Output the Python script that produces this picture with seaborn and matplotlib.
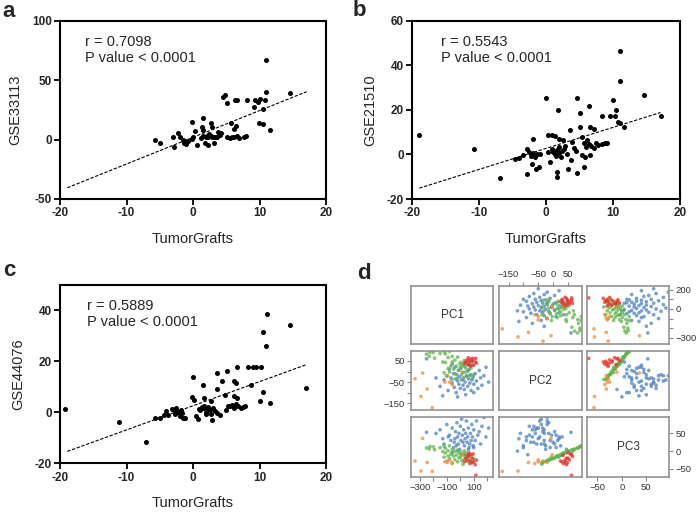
import numpy as np
import pandas as pd
import seaborn as sns
import matplotlib.pyplot as plt

# ---- panel a: TumorGrafts vs GSE33113 ----
tg_a = [-5.7, -5.0, -3.0, -2.8, -2.2, -2.0, -1.5, -1.3, -1.05, -1.2, -1.0, -0.8, -0.2, 0.05, -0.1,
        0.55, 0.3, 1.3, 1.45, 1.55, 1.55, 1.8, 1.9, 2.1, 2.3, 2.5, 2.7, 2.9, 3.1, 3.4, 3.6, 2.65,
        2.8, 3.15, 2.2, 3.8, 4.2, 4.45, 4.8, 5.05, 5.1, 5.5, 5.8, 6.2, 6.6, 6.9, 7.6, 5.7, 6.4,
        6.2, 6.3, 6.65, 8.1, 9.3, 9.8, 10.1, 10.8, 9.1, 10.6, 9.97, 10.5, 11.0, 11.0, 11.6, 14.6,
        7.9, 2.4, 1.2, 4.0]
gse33113 = [-0.3, -3.1, 2.4, -6.0, 5.8, 1.9, -0.3, -2.6, -4.0, -1.5, -2.0, -1.0, 0.3, 1.9, 15.0,
            -4.5, 7.5, 10.9, 8.1, 17.9, 3.0, -3.1, 2.5, 3.0, 2.0, 2.8, 3.2, 1.8, 2.5, 2.2, 2.0, 13.7,
            10.9, -3.1, -4.5, 6.6, 5.2, 36.1, 37.5, 30.5, 2.0, 1.2, 2.4, 1.8, 2.6, 1.5, 2.5, 14.0, 11.5,
            8.5, 33.3, 33.3, 33.0, 33.5, 32.0, 33.8, 33.0, 27.2, 25.5, 14.2, 13.1, 40.3, 66.9, 8.1, 38.9,
            2.8, 4.5, 1.5, 3.5]

# ---- panel b: TumorGrafts vs GSE21510 ----
tg_b = [-18.9, -10.7, -6.8, -4.6, -4.1, -3.5, -2.9, -2.6, -2.3, -2.0, -1.7, -1.4, -2.9, -1.9, -2.1,
        -1.5, -1.1, -0.9, 0.0, 0.35, 0.6, 0.85, 1.1, 1.3, 1.5, 1.7, 1.9, 2.2, 2.4, 2.7, 3.1, 0.85,
        1.4, 1.9, 1.8, 1.6, 1.7, 2.6, 2.9, 3.3, 3.6, 3.7, 4.6, 4.6, 5.1, 5.1, 5.3, 5.6, 5.9, 6.1,
        6.4, 6.7, 7.2, 7.5, 7.8, 8.3, 8.8, 9.1, 5.3, 5.6, 5.8, 6.6, 6.4, 6.6, 7.1, 8.3, 9.6, 10.0,
        10.3, 10.8, 11.0, 10.5, 11.0, 11.0, 11.6, 14.7, 17.1, 4.2, 3.9, 0.3, 2.0, 4.5]
gse21510 = [8.9, 2.3, -10.4, -2.2, -1.4, -0.4, 2.6, 1.0, -0.5, 0.8, -1.1, 0.2, -8.6, 6.7, -4.1,
            -6.4, -5.6, 0.4, 25.5, 8.9, -3.4, 2.6, 1.2, 0.0, -0.8, 2.0, 0.5, -1.1, 1.5, 2.6, 0.2, 8.9,
            8.2, 6.7, 19.9, -7.9, -10.1, 6.4, 4.0, -6.4, 10.9, -2.6, 25.1, -8.3, 18.4, 12.4, 7.9, 5.0,
            3.5, 6.5, 4.5, 3.6, 2.9, 5.0, 4.1, 4.6, 5.0, 5.0, -0.4, -5.6, -1.1, -0.4, 21.6, 12.1, 11.2,
            17.2, 17.2, 24.3, 17.2, 14.6, 14.2, 20.1, 32.9, 46.5, 12.1, 26.6, 17.2, 3.0, 5.5, 1.0, 3.5, 1.5]

# ---- panel c: TumorGrafts vs GSE44076 ----
tg_c = [-19.2, -11.1, -7.0, -5.7, -5.0, -4.4, -4.0, -3.7, -3.2, -2.9, -2.7, -2.5, -2.3, -2.0, -1.8,
        -1.6, -1.5, -1.2, 0.05, -0.2, 0.15, 0.5, 0.8, 1.0, 1.3, 1.5, 1.7, 1.9, 2.1, 2.3, 2.5, 2.7,
        2.8, 3.0, 3.3, 3.6, 4.1, 1.55, 1.65, 2.7, 3.55, 3.55, 4.4, 5.05, 4.8, 5.3, 5.6, 5.9, 6.2,
        6.5, 6.8, 7.2, 7.5, 7.8, 6.2, 6.4, 6.55, 6.1, 6.55, 8.3, 8.95, 9.5, 8.7, 10.3, 10.5, 10.1,
        10.6, 11.0, 11.1, 11.6, 14.6, 17.0, 5.0, 2.0, 0.9]
gse44076 = [1.4, -3.9, -11.8, -2.2, -2.2, -0.9, 0.4, -0.9, 1.4, 0.8, -0.5, 1.6, 0.3, -1.4, 0.9,
            -0.3, -2.2, -2.2, 14.0, 6.1, 4.8, -1.5, -2.5, 0.8, 2.2, 1.6, 2.6, -0.5, 1.5, 2.0, 0.9, -0.6,
            -3.0, 1.8, 0.5, -0.4, -0.9, 10.6, 5.6, 4.4, 15.3, 9.0, 12.2, 16.1, 7.0, 2.3, 2.5, 2.8, 1.9,
            3.1, 2.3, 1.7, 2.0, 2.3, 12.3, 11.4, 18.0, 6.6, 5.7, 17.9, 17.9, 17.9, 10.6, 17.9, 8.0, 4.3,
            31.7, 25.9, 38.7, 3.7, 34.1, 9.7, 1.0, 0.0, 1.2]

# ---- panel d: principal components by group ----
blue_pc1 = [-250, -150, -120, -100, -90, -80, -70, -60, -50, -45, -40, -35, -30, -25, -20, -15, -10, -5,
            0, 5, 10, 15, 20, 25, 30, 35, 40, 45, 50, 55, 60, 65, 70, 75, 80, 85, 90, 95, 100, 110,
            120, 130, 140, 150, 160, 175, 190, 210, -130, -20, 60, -60, 100, -180, 30]
blue_pc2 = [60, -70, -40, -20, -90, 10, -30, -55, -10, -75, 20, -35, -100, -15, -45, 5, -60, -25,
            -80, 15, -40, -5, -65, -30, 25, -50, -110, -20, 0, -70, -35, 10, -55, -15, -90, -40, 30,
            -25, -60, -10, -45, -80, 5, -30, -65, -20, 20, -50, -115, -120, 45, 35, -100, -30, -85]
blue_pc3 = [53, 60, 20, 75, 40, 45, 30, 65, 10, 25, 35, 55, 15, 80, 40, 20, 50, 5, 70, 30, 90, 45,
            25, 60, 15, 35, 50, 85, 25, 40, 65, 10, 20, 50, 30, 75, 40, 15, 60, 30, 85, 45, 55, 20,
            70, 95, 40, 65, 35, 0, 5, -5, 10, 50, -10]

green_pc1 = [20, -60, 90, -20, 50, -100, 10, 70, -40, 100, -80, 30, -10, 60, -120, 0, 80, -50, 40,
             -90, 15, -30, 65, -70, 25, -5, -110, 45, -60, 5, -130, -40, 30, -90, -20, -190, -60,
             -230, -110, -250, -150, -200, -225, -120, -80]
green_pc2 = [-38, -38, -34, -32, -23, -22, -15, -20, -11, -14, -3, -4, 6, 5, -6, 20, 17, 11, 16, 14,
             28, 25, 30, 25, 34, 36, 43, 37, 45, 43, 45, 54, 52, 66, 68, 63, 71, 72, 83, 82, 85, 90,
             90, 94, 95]
green_pc3 = [-37, -33, -31, -30, -29, -28, -26, -27, -24, -23, -21, -22, -19, -19, -17, -16, -16, -14,
             -13, -14, -11, -11, -9, -9, -7, -7, -5, -5, -3, -3, -1, 0, 1, 1, 3, 4, 5, 6, 8, 9, 10,
             12, 13, 14, 15]

red_pc1 = [30, 50, 70, 90, 60, 100, 80, 40, 110, 75, 95, 55, 120, 85, 65, 115]
red_pc2 = [40, 55, 35, 50, 65, 30, 60, 45, 45, 25, 62, 33, 40, 48, 52, 62]
red_pc3 = [-30, -25, -35, -20, -15, -30, -10, -20, -38, -28, -8, -12, -25, -33, -5, -68]

orange_pc1 = [-208, -291, -245, -335, -279, -114, -78, 16, -60, -95]
orange_pc2 = [-171, -118, -83, -34, -7, -50, -50, -3, -62, -20]
orange_pc3 = [-57, -56, -32, -28, 36, -30, -25, -10, -35, -32]

pc_names = ["PC1", "PC2", "PC3"]
group_colors = {"blue": "#4f80c4", "green": "#5fb548", "red": "#e8302a", "orange": "#f58a3c"}

sns.set_theme(style="ticks")
plt.rcParams['font.family'] = ['Liberation Sans', 'DejaVu Sans']
plt.rcParams['axes.unicode_minus'] = False

W, H = 697, 514
fig = plt.figure(figsize=(W / 100, H / 100), dpi=100)


def px_axes(x0, y0, x1, y1):
    return fig.add_axes([x0 / W, 1 - y1 / H, (x1 - x0) / W, (y1 - y0) / H])


line_x = np.array([min(tg_b), max(tg_b)])


def corr_panel(ax, x, y, ylabel, ylim, yticks, label, tx):
    sns.scatterplot(x=x, y=y, ax=ax, color="black", s=13, linewidth=0)
    slope, icpt = np.polyfit(x, y, 1)
    ax.plot(line_x, slope * line_x + icpt, color="black", lw=0.8, ls=(0, (3, 1.5)))
    ax.set_xlim(-20, 20)
    ax.set_ylim(*ylim)
    ax.set_xticks([-20, -10, 0, 10, 20])
    ax.set_yticks(yticks)
    for t in ax.get_xticklabels() + ax.get_yticklabels():
        t.set_fontweight("bold")
    ax.tick_params(labelsize=8.5, length=4, width=1.3, color="black", pad=2)
    for s in ax.spines.values():
        s.set_linewidth(1.5)
        s.set_color("black")
    ax.set_xlabel("TumorGrafts", fontsize=10.5, labelpad=9)
    ax.set_ylabel(ylabel, fontsize=10.5, labelpad=7)
    ax.text(tx, 0.92, label, transform=ax.transAxes, va="top", ha="left",
            fontsize=10.5, linespacing=1.15)


ax_a = px_axes(60, 20.7, 326, 199)
corr_panel(ax_a, tg_a, gse33113, "GSE33113", (-50, 100), [-50, 0, 50, 100],
           "r = 0.7098\nP value < 0.0001", 0.094)
ax_b = px_axes(412, 20.7, 680, 199)
corr_panel(ax_b, tg_b, gse21510, "GSE21510", (-20, 60), [-20, 0, 20, 40, 60],
           "r = 0.5543\nP value < 0.0001", 0.11)
ax_c = px_axes(60, 285, 326, 463.3)
corr_panel(ax_c, tg_c, gse44076, "GSE44076", (-20, 50), [-20, 0, 20, 40],
           "r = 0.5889\nP value < 0.0001", 0.10)

# ---- panel d: pairs plot ----
pcs = pd.DataFrame({
    "PC1": blue_pc1 + green_pc1 + red_pc1 + orange_pc1,
    "PC2": blue_pc2 + green_pc2 + red_pc2 + orange_pc2,
    "PC3": blue_pc3 + green_pc3 + red_pc3 + orange_pc3,
    "group": ["blue"] * len(blue_pc1) + ["green"] * len(green_pc1)
             + ["red"] * len(red_pc1) + ["orange"] * len(orange_pc1),
})

lims = {"PC1": (-365, 242), "PC2": (-182, 97), "PC3": (-72, 97)}
ticks = {"PC1": [-300, -200, -100, 0, 100, 200],
         "PC2": [-150, -100, -50, 0, 50],
         "PC3": [-50, 0, 50]}
col_x = [(411, 493), (499, 582), (586.7, 669.3)]
row_y = [(285.7, 344), (351, 410), (416.7, 476.7)]
frame = "#8a8a8a"


def lab(vals, keep):
    return [("\u2212" + str(-v) if v < 0 else str(v)) if v in keep else "" for v in vals]


# which outer axes carry ticks: (row, col) -> list of (side, variable, labels kept)
outer = {
    (0, 1): [("top", "PC2", [-150, -50, 0, 50])],
    (0, 2): [("right", "PC1", [-300, 0, 200])],
    (1, 0): [("left", "PC2", [-150, -50, 50])],
    (2, 0): [("bottom", "PC1", [-300, -100, 100])],
    (2, 2): [("right", "PC3", [-50, 0, 50]), ("bottom", "PC3", [-50, 0, 50])],
}

for i, yv in enumerate(pc_names):
    for j, xv in enumerate(pc_names):
        ax = px_axes(col_x[j][0], row_y[i][0], col_x[j][1], row_y[i][1])
        ax.set_xlim(*lims[xv])
        ax.set_ylim(*lims[yv])
        if i == j:
            ax.text(0.5, 0.5, yv, transform=ax.transAxes, ha="center", va="center",
                    fontsize=8.5, color="#333333")
        else:
            sns.scatterplot(data=pcs, x=xv, y=yv, hue="group", palette=group_colors, ax=ax,
                            s=7, linewidth=0, alpha=0.75, legend=False)
        ax.set_xlabel("")
        ax.set_ylabel("")
        ax.set_xticks([])
        ax.set_yticks([])
        for s in ax.spines.values():
            s.set_color(frame)
            s.set_linewidth(1.1)
        for side, var, keep in outer.get((i, j), []):
            if side in ("top", "bottom"):
                ax.set_xticks(ticks[var])
                ax.set_xticklabels(lab(ticks[var], keep))
                ax.tick_params(axis="x", top=(side == "top"), labeltop=(side == "top"),
                               bottom=(side == "bottom"), labelbottom=(side == "bottom"))
            else:
                ax.set_yticks(ticks[var])
                ax.set_yticklabels(lab(ticks[var], keep))
                ax.tick_params(axis="y", right=(side == "right"), labelright=(side == "right"),
                               left=(side == "left"), labelleft=(side == "left"))
        ax.tick_params(length=3, width=0.8, color=frame, labelsize=6.8,
                       labelcolor="#333333", pad=1.5)

for letter, x, y in [("a", 2, 17), ("b", 353, 16), ("c", 3, 276), ("d", 357, 279)]:
    fig.text(x / W, 1 - y / H, letter, fontsize=16, fontweight="bold", va="baseline")

fig.savefig("out.png", dpi=100)
